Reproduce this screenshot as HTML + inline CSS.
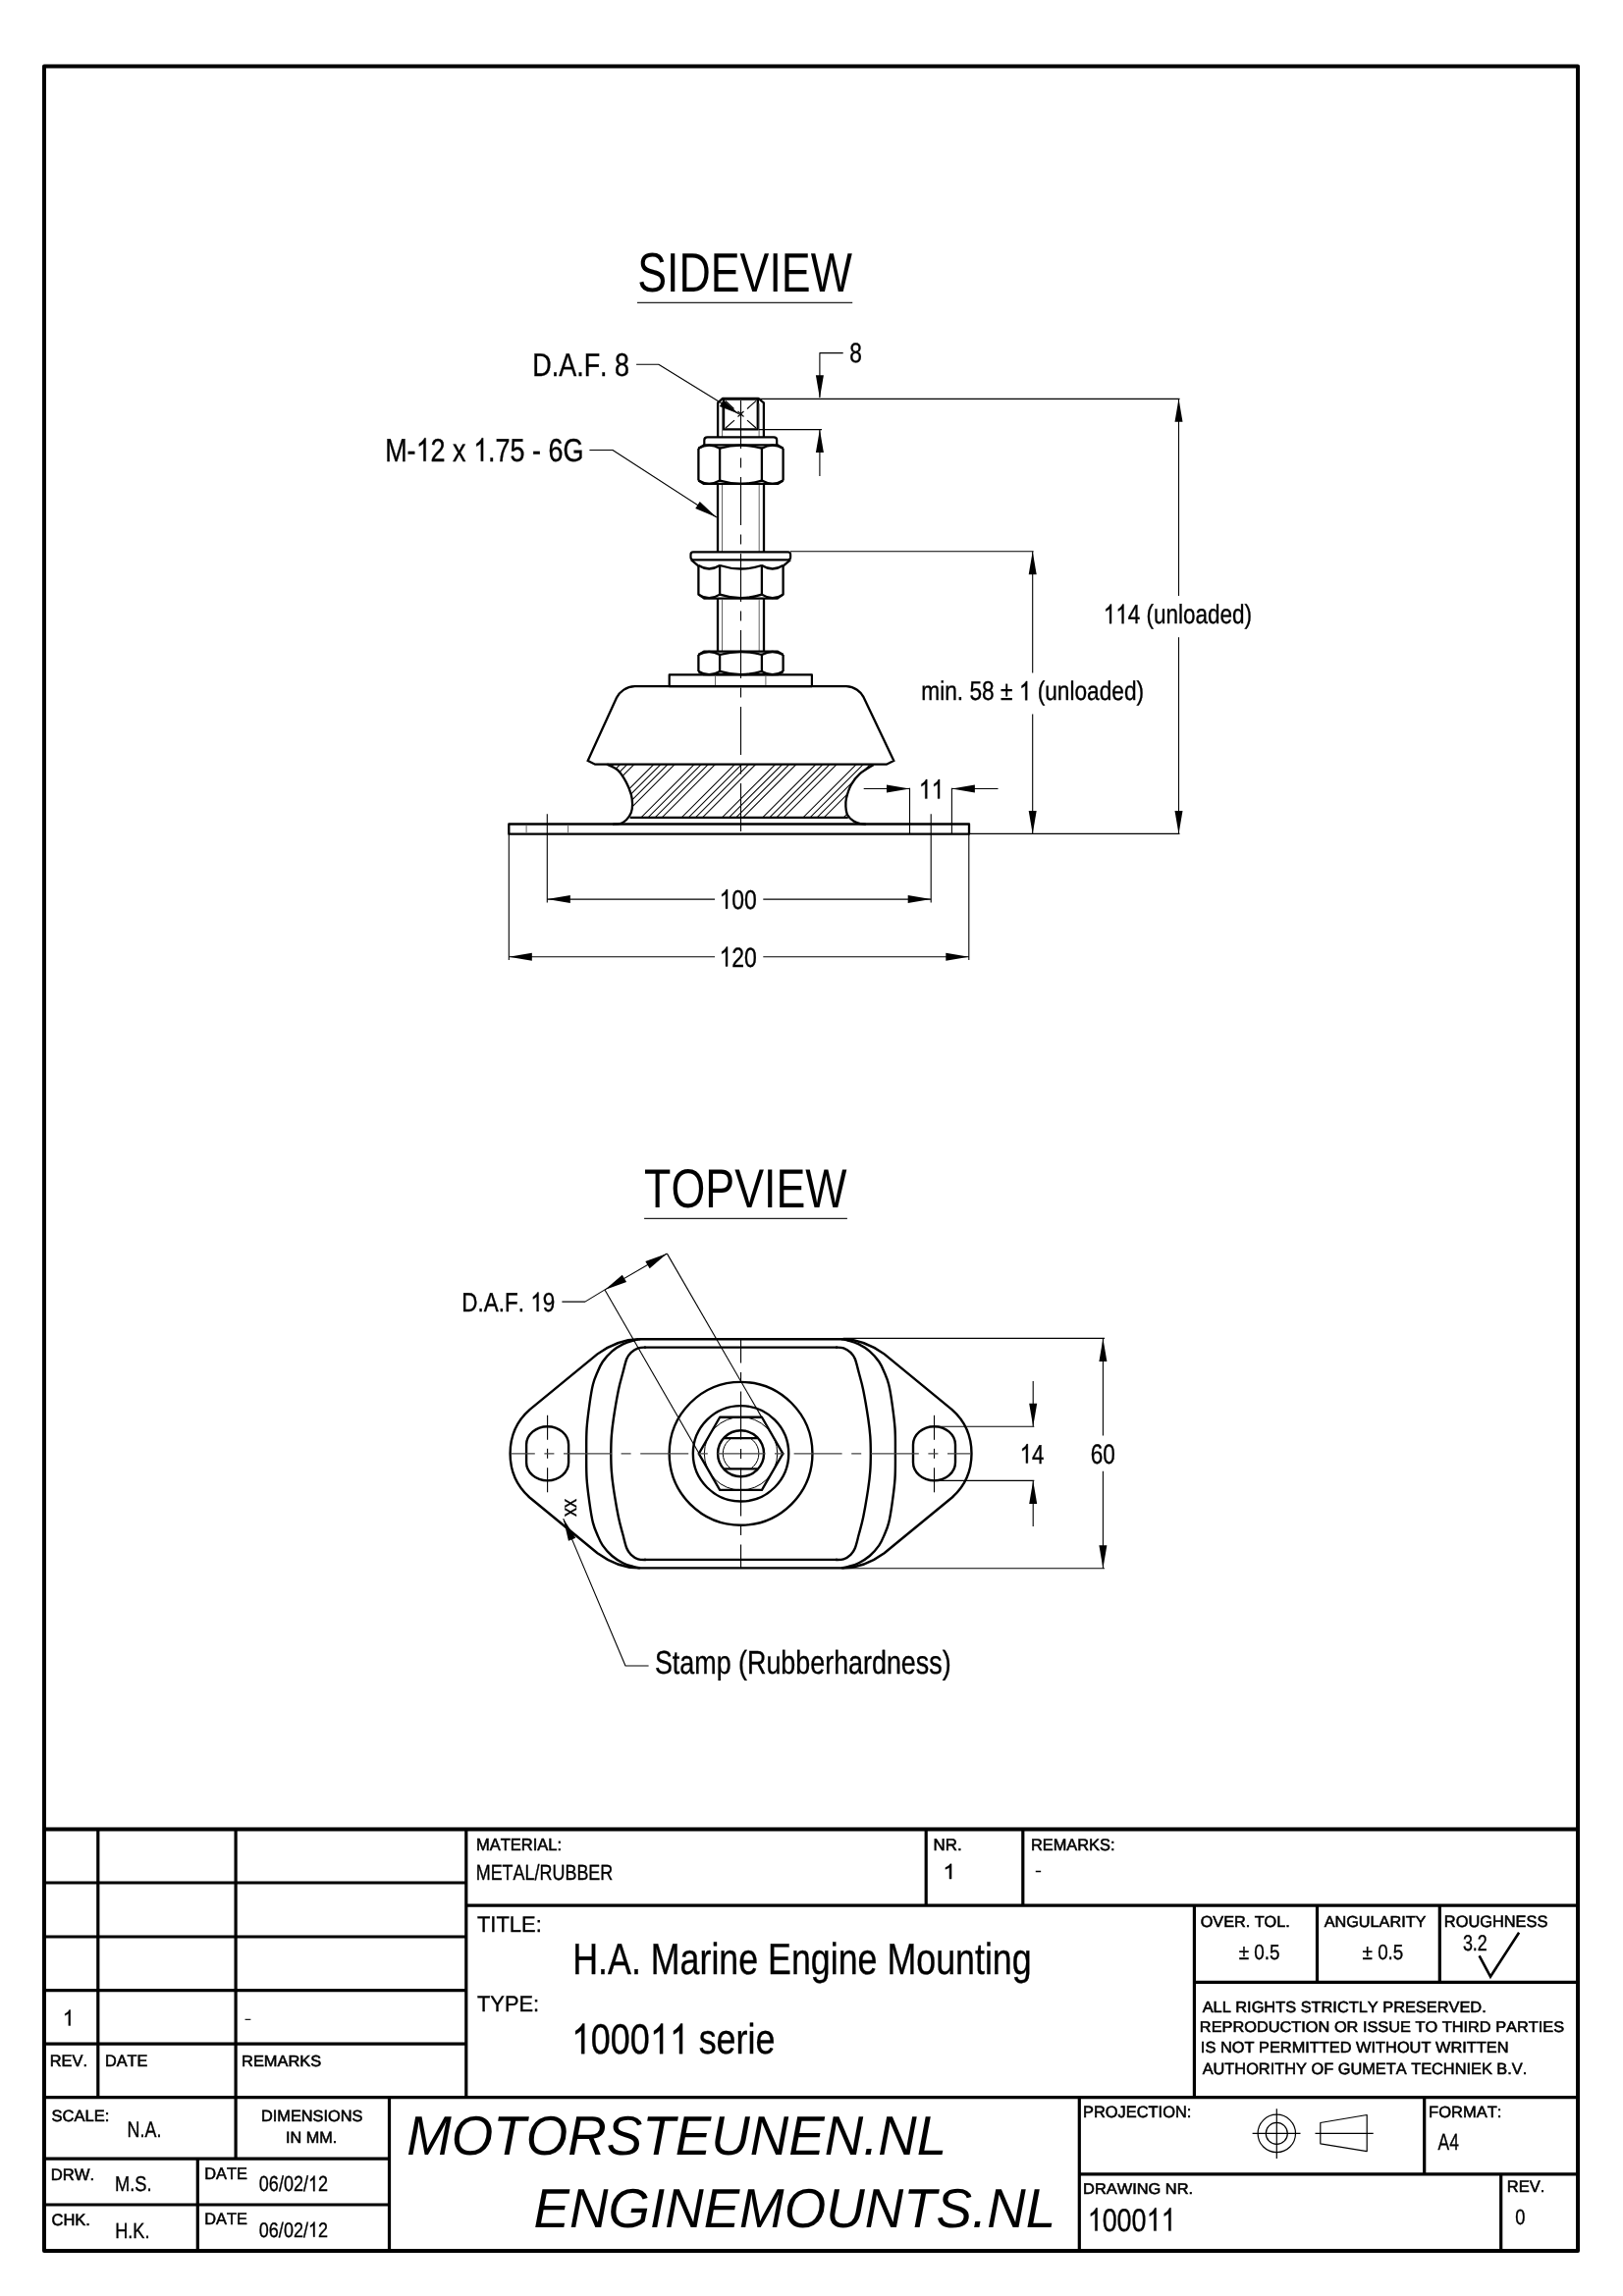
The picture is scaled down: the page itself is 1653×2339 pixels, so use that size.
<!DOCTYPE html>
<html><head><meta charset="utf-8"><style>
html,body{margin:0;padding:0;background:#fff;}
svg{display:block;will-change:transform;}
</style></head><body>
<svg width="1653" height="2339" viewBox="0 0 1653 2339">
<rect width="1653" height="2339" fill="#fff"/>
<g fill="none" stroke="#000" stroke-linecap="butt" stroke-linejoin="round">
<rect x="45" y="67.5" width="1562" height="2225.5" stroke-width="4"/>
<line x1="45" y1="1863.5" x2="1607" y2="1863.5" stroke-width="4"/>
<line x1="45" y1="1918" x2="474.8" y2="1918" stroke-width="3.2"/>
<line x1="45" y1="1973" x2="474.8" y2="1973" stroke-width="3.2"/>
<line x1="45" y1="2027.7" x2="474.8" y2="2027.7" stroke-width="3.2"/>
<line x1="45" y1="2082.2" x2="474.8" y2="2082.2" stroke-width="3.2"/>
<line x1="99.8" y1="1863.5" x2="99.8" y2="2136.7" stroke-width="3.2"/>
<line x1="240.1" y1="1863.5" x2="240.1" y2="2199.2" stroke-width="3.2"/>
<line x1="474.8" y1="1863.5" x2="474.8" y2="2136.7" stroke-width="3.2"/>
<line x1="474.8" y1="1941.2" x2="1607" y2="1941.2" stroke-width="3.2"/>
<line x1="943.2" y1="1863.5" x2="943.2" y2="1941.2" stroke-width="3.2"/>
<line x1="1041.8" y1="1863.5" x2="1041.8" y2="1941.2" stroke-width="3.2"/>
<line x1="1216.4" y1="1941.2" x2="1216.4" y2="2136.5" stroke-width="3.2"/>
<line x1="1216.4" y1="2019.3" x2="1607" y2="2019.3" stroke-width="3.2"/>
<line x1="1341.5" y1="1941.2" x2="1341.5" y2="2019.3" stroke-width="3.2"/>
<line x1="1466.3" y1="1941.2" x2="1466.3" y2="2019.3" stroke-width="3.2"/>
<line x1="45" y1="2136.6" x2="1607" y2="2136.6" stroke-width="3.2"/>
<line x1="396.5" y1="2136.6" x2="396.5" y2="2293" stroke-width="3.2"/>
<line x1="45" y1="2199.2" x2="396.5" y2="2199.2" stroke-width="3.2"/>
<line x1="45" y1="2246" x2="396.5" y2="2246" stroke-width="3.2"/>
<line x1="201.3" y1="2199.2" x2="201.3" y2="2293" stroke-width="3.2"/>
<line x1="1099.3" y1="2136.6" x2="1099.3" y2="2293" stroke-width="3.2"/>
<line x1="1450.7" y1="2136.6" x2="1450.7" y2="2214.9" stroke-width="3.2"/>
<line x1="1099.3" y1="2214.9" x2="1607" y2="2214.9" stroke-width="3.2"/>
<line x1="1528.7" y1="2214.9" x2="1528.7" y2="2293" stroke-width="3.2"/>
<circle cx="1300.3" cy="2173.4" r="19.2" stroke-width="1.2"/>
<circle cx="1300.3" cy="2173.4" r="11" stroke-width="1.2"/>
<line x1="1275.6" y1="2173.4" x2="1324.5" y2="2173.4" stroke-width="1.2"/>
<line x1="1300.3" y1="2148.3" x2="1300.3" y2="2198.9" stroke-width="1.2"/>
<path d="M1344.8,2162.5 L1392.2,2154.5 L1392.2,2191.6 L1344.8,2183.8 Z" stroke-width="1.2"/>
<line x1="1339.5" y1="2173.4" x2="1398.7" y2="2173.4" stroke-width="1.2"/>
<path d="M1506.6,1992.3 L1518,2013.6 L1547.1,1968.7" stroke-width="2.6" stroke-linejoin="miter"/>
<line x1="649" y1="308.4" x2="868.2" y2="308.4" stroke-width="1.2" stroke="#222"/>
<rect x="737" y="406.6" width="34.8" height="30.8" stroke-width="2.4"/>
<path d="M731.1,445.5 L731.1,410.3 L736,405.9 L772.4,405.9 L777.9,410.3 L777.9,445.5" stroke-width="2.3"/>
<line x1="735.6" y1="411" x2="735.6" y2="445" stroke-width="1" stroke="#666"/>
<line x1="773.1" y1="411" x2="773.1" y2="445" stroke-width="1" stroke="#666"/>
<line x1="739" y1="408.5" x2="747.5" y2="416.5" stroke-width="1.1"/>
<line x1="761" y1="416.5" x2="770" y2="408.3" stroke-width="1.1"/>
<line x1="739" y1="436" x2="748" y2="428.2" stroke-width="1.1"/>
<line x1="761" y1="428.2" x2="770" y2="436" stroke-width="1.1"/>
<line x1="751.5" y1="419" x2="757.5" y2="424.5" stroke-width="1.1"/>
<line x1="751.5" y1="424.5" x2="757.5" y2="419" stroke-width="1.1"/>
<path d="M717.3,453 L717.3,448.5 Q717.3,445.4 720.5,445.4 L788,445.4 Q791.2,445.4 791.2,448.5 L791.2,453" stroke-width="2.2"/>
<path d="M711.4,456.7 L716.9,453.4 L792.1,453.4 L797.6,456.7 M711.4,489.59999999999997 L716.9,492.9 L792.1,492.9 L797.6,489.59999999999997 M711.4,456.7 L711.4,489.59999999999997 M797.6,456.7 L797.6,489.59999999999997 M733.1,455.4 L733.1,490.9 M775.9,455.4 L775.9,490.9 " stroke-width="2.3"/>
<path d="M711.4,456.7 Q722.25,450.7 733.1,456.7 M733.1,456.7 Q754.5,450.7 775.9,456.7 M775.9,456.7 Q786.75,450.7 797.6,456.7 " stroke-width="2.3"/>
<path d="M711.4,489.59999999999997 Q722.25,495.99999999999994 733.1,489.59999999999997 M733.1,489.59999999999997 Q754.5,495.99999999999994 775.9,489.59999999999997 M775.9,489.59999999999997 Q786.75,495.99999999999994 797.6,489.59999999999997 " stroke-width="2.3"/>
<line x1="731" y1="493" x2="731" y2="562.4" stroke-width="2.3"/>
<line x1="778" y1="493" x2="778" y2="562.4" stroke-width="2.3"/>
<line x1="735.5" y1="494" x2="735.5" y2="562" stroke-width="1" stroke="#666"/>
<line x1="773.2" y1="494" x2="773.2" y2="562" stroke-width="1" stroke="#666"/>
<rect x="703.5" y="562.4" width="101.6" height="7.9" rx="2.5" stroke-width="2.2"/>
<path d="M704,570.4 L711.4,576.7 M805,570.4 L797.6,576.7" stroke-width="2.3"/>
<path d="M711.4,576.5 L711.4,605.6 L717.1999999999999,609.6 L791.8000000000001,609.6 L797.6,605.6 L797.6,576.5 M733.1,575.5 L733.1,605.6 M775.9,575.5 L775.9,605.6" stroke-width="2.3"/>
<path d="M711.4,576.0 Q722.25,583.0 733.1,576.0 M711.4,605.6 Q722.25,612.6 733.1,605.6 M733.1,576.0 Q754.5,583.0 775.9,576.0 M733.1,605.6 Q754.5,612.6 775.9,605.6 M775.9,576.0 Q786.75,583.0 797.6,576.0 M775.9,605.6 Q786.75,612.6 797.6,605.6 " stroke-width="2.3"/>
<line x1="731" y1="609.6" x2="731" y2="663.7" stroke-width="2.3"/>
<line x1="778" y1="609.6" x2="778" y2="663.7" stroke-width="2.3"/>
<line x1="735.5" y1="611" x2="735.5" y2="663" stroke-width="1" stroke="#666"/>
<line x1="773.2" y1="611" x2="773.2" y2="663" stroke-width="1" stroke="#666"/>
<path d="M711.4,667.0 L716.9,663.7 L792.1,663.7 L797.6,667.0 M711.4,683.9000000000001 L716.9,687.2 L792.1,687.2 L797.6,683.9000000000001 M711.4,667.0 L711.4,683.9000000000001 M797.6,667.0 L797.6,683.9000000000001 M733.1,665.7 L733.1,685.2 M775.9,665.7 L775.9,685.2 " stroke-width="2.3"/>
<path d="M711.4,667.0 Q722.25,661.0 733.1,667.0 M733.1,667.0 Q754.5,661.0 775.9,667.0 M775.9,667.0 Q786.75,661.0 797.6,667.0 " stroke-width="2.3"/>
<path d="M711.4,683.9000000000001 Q722.25,690.3000000000001 733.1,683.9000000000001 M733.1,683.9000000000001 Q754.5,690.3000000000001 775.9,683.9000000000001 M775.9,683.9000000000001 Q786.75,690.3000000000001 797.6,683.9000000000001 " stroke-width="2.3"/>
<rect x="681.7" y="687.4" width="145.2" height="11.7" stroke-width="2.2"/>
<line x1="728.5" y1="689" x2="728.5" y2="698" stroke-width="1" stroke="#666"/>
<line x1="779.9" y1="689" x2="779.9" y2="698" stroke-width="1" stroke="#666"/>
<path d="M646.5,699.1 L862,699.1 C870.6,699.3 876.8,705 879.2,709.6 L910.3,774.9 L902.9,778.7 L606.1,778.7 L598.7,774.9 L628,710.8 C630.6,705 637.9,699.3 646.5,699.1 Z" stroke-width="2.3" stroke-linejoin="miter"/>
<path d="M618.2,778.6 C620.05,779.62 626.02,781.62 629.3,784.7 C632.58,787.78 635.65,792.98 637.9,797.1 C640.15,801.22 641.77,805.72 642.8,809.4 C643.83,813.08 644.1,816.12 644.1,819.2 C644.1,822.28 643.83,825.22 642.8,827.9 C641.77,830.58 639.73,833.45 637.9,835.3 C636.07,837.15 634.12,838.25 631.8,839 C629.48,839.75 625.3,839.67 624,839.8" stroke-width="2.3"/>
<path d="M889.7,779 C887.35,780.57 879.4,784.98 875.6,788.4 C871.8,791.82 869.17,795.38 866.9,799.5 C864.63,803.62 862.92,809.4 862,813.1 C861.08,816.8 861.2,818.83 861.4,821.7 C861.6,824.57 861.87,827.83 863.2,830.3 C864.53,832.77 867.18,835.02 869.4,836.5 C871.62,837.98 874.4,838.65 876.5,839.2 C878.6,839.75 881.08,839.7 882,839.8" stroke-width="2.3"/>
<clipPath id="hc"><polygon points="618.2,778.6 618.74,778.87 619.44,779.19 620.25,779.55 621.17,779.95 622.16,780.39 623.21,780.88 624.29,781.4 625.37,781.97 626.44,782.59 627.47,783.25 628.43,783.95 629.3,784.7 630.12,785.51 630.92,786.4 631.71,787.36 632.49,788.37 633.25,789.43 633.99,790.51 634.71,791.62 635.4,792.74 636.07,793.86 636.71,794.97 637.32,796.05 637.9,797.1 638.45,798.14 638.97,799.18 639.47,800.24 639.94,801.3 640.39,802.36 640.81,803.41 641.2,804.46 641.57,805.49 641.91,806.5 642.23,807.5 642.53,808.46 642.8,809.4 643.04,810.31 643.26,811.19 643.44,812.05 643.6,812.89 643.73,813.72 643.84,814.52 643.92,815.32 643.99,816.11 644.04,816.89 644.08,817.66 644.09,818.43 644.1,819.2 644.09,819.97 644.08,820.73 644.04,821.48 643.99,822.23 643.92,822.97 643.84,823.7 643.73,824.42 643.6,825.14 643.44,825.84 643.26,826.54 643.04,827.22 642.8,827.9 642.52,828.57 642.21,829.25 641.86,829.93 641.48,830.6 641.07,831.26 640.65,831.91 640.21,832.54 640.21,832.8 864.91,832.8 864.91,832.67 864.42,832.1 863.97,831.51 863.56,830.91 863.2,830.3 862.89,829.67 862.62,829.01 862.38,828.32 862.19,827.61 862.02,826.89 861.88,826.15 861.76,825.4 861.66,824.66 861.58,823.91 861.51,823.16 861.45,822.42 861.4,821.7 861.35,821 861.31,820.32 861.28,819.67 861.26,819.02 861.26,818.37 861.28,817.71 861.32,817.04 861.39,816.34 861.49,815.6 861.62,814.82 861.79,813.99 862,813.1 862.25,812.13 862.52,811.09 862.83,809.99 863.17,808.84 863.54,807.66 863.94,806.46 864.37,805.24 864.83,804.03 865.31,802.84 865.81,801.68 866.34,800.56 866.9,799.5 867.47,798.48 868.07,797.49 868.68,796.51 869.32,795.55 869.98,794.61 870.67,793.69 871.4,792.78 872.16,791.88 872.96,791 873.79,790.12 874.67,789.26 875.6,788.4 876.63,787.53 877.8,786.63 879.08,785.71 880.42,784.79 881.81,783.89 883.19,783.01 884.55,782.16 885.84,781.37 887.04,780.65 888.1,780 889,779.45 889.7,779"/></clipPath>
<path clip-path="url(#hc)" d="M583.4,778.6 L529.2,832.8 M590.5,778.6 L536.3,832.8 M597.6,778.6 L543.4,832.8 M604.7,778.6 L550.5,832.8 M624.65,778.6 L570.45,832.8 M631.75,778.6 L577.55,832.8 M638.85,778.6 L584.65,832.8 M645.95,778.6 L591.75,832.8 M665.9,778.6 L611.7,832.8 M673,778.6 L618.8,832.8 M680.1,778.6 L625.9,832.8 M687.2,778.6 L633,832.8 M707.15,778.6 L652.95,832.8 M714.25,778.6 L660.05,832.8 M721.35,778.6 L667.15,832.8 M728.45,778.6 L674.25,832.8 M748.4,778.6 L694.2,832.8 M755.5,778.6 L701.3,832.8 M762.6,778.6 L708.4,832.8 M769.7,778.6 L715.5,832.8 M789.65,778.6 L735.45,832.8 M796.75,778.6 L742.55,832.8 M803.85,778.6 L749.65,832.8 M810.95,778.6 L756.75,832.8 M830.9,778.6 L776.7,832.8 M838,778.6 L783.8,832.8 M845.1,778.6 L790.9,832.8 M852.2,778.6 L798,832.8 M872.15,778.6 L817.95,832.8 M879.25,778.6 L825.05,832.8 M886.35,778.6 L832.15,832.8 M893.45,778.6 L839.25,832.8 M913.4,778.6 L859.2,832.8 M920.5,778.6 L866.3,832.8 M927.6,778.6 L873.4,832.8 M934.7,778.6 L880.5,832.8" stroke-width="1.05"/>
<line x1="641.6" y1="832.8" x2="863.8" y2="832.8" stroke-width="2.3"/>
<rect x="518.3" y="839.5" width="468.7" height="10.2" stroke-width="2.3"/>
<line x1="536.1" y1="840.5" x2="536.1" y2="848.5" stroke-width="1" stroke="#666"/>
<line x1="578.6" y1="840.5" x2="578.6" y2="848.5" stroke-width="1" stroke="#666"/>
<line x1="754.5" y1="408" x2="754.5" y2="850" stroke-width="1.1" stroke-dasharray="49 9.5 10 9.5"/>
<line x1="557.3" y1="829.2" x2="557.3" y2="919.5" stroke-width="1.1"/>
<line x1="948.2" y1="829.2" x2="948.2" y2="919.5" stroke-width="1.1"/>
<line x1="518.3" y1="850" x2="518.3" y2="978" stroke-width="1.1"/>
<line x1="986.8" y1="850" x2="986.8" y2="978" stroke-width="1.1"/>
<line x1="926.5" y1="802.7" x2="926.5" y2="849.5" stroke-width="1.1"/>
<line x1="969.4" y1="802.7" x2="969.4" y2="849.5" stroke-width="1.1"/>
<line x1="557.3" y1="916.1" x2="728" y2="916.1" stroke-width="1.1"/>
<line x1="777.3" y1="916.1" x2="948.2" y2="916.1" stroke-width="1.1"/>
<path d="M557.3,916.1 L580.8,912.1 L580.8,920.1 Z" fill="#000" stroke="none"/>
<path d="M948.2,916.1 L924.7,920.1 L924.7,912.1 Z" fill="#000" stroke="none"/>
<line x1="518.3" y1="974.7" x2="728" y2="974.7" stroke-width="1.1"/>
<line x1="777.3" y1="974.7" x2="986.8" y2="974.7" stroke-width="1.1"/>
<path d="M518.3,974.7 L541.8,970.7 L541.8,978.7 Z" fill="#000" stroke="none"/>
<path d="M986.8,974.7 L963.3,978.7 L963.3,970.7 Z" fill="#000" stroke="none"/>
<line x1="879.7" y1="803.5" x2="926.5" y2="803.5" stroke-width="1.1"/>
<path d="M926.5,803.5 L903,807.5 L903,799.5 Z" fill="#000" stroke="none"/>
<line x1="969.4" y1="803.5" x2="1016.5" y2="803.5" stroke-width="1.1"/>
<path d="M969.4,803.5 L992.9,799.5 L992.9,807.5 Z" fill="#000" stroke="none"/>
<line x1="773.3" y1="406.3" x2="1201.5" y2="406.3" stroke-width="1.3"/>
<line x1="773" y1="437.6" x2="837" y2="437.6" stroke-width="1.1"/>
<line x1="805" y1="561.8" x2="1052.6" y2="561.8" stroke-width="1.1"/>
<line x1="987" y1="849.4" x2="1201.5" y2="849.4" stroke-width="1.1"/>
<line x1="1200.5" y1="406.3" x2="1200.5" y2="607" stroke-width="1.1"/>
<line x1="1200.5" y1="649.2" x2="1200.5" y2="849.4" stroke-width="1.1"/>
<path d="M1200.5,406.3 L1204.5,429.8 L1196.5,429.8 Z" fill="#000" stroke="none"/>
<path d="M1200.5,849.4 L1196.5,825.9 L1204.5,825.9 Z" fill="#000" stroke="none"/>
<line x1="1051.7" y1="561.8" x2="1051.7" y2="685.5" stroke-width="1.1"/>
<line x1="1051.7" y1="727.6" x2="1051.7" y2="849.4" stroke-width="1.1"/>
<path d="M1051.7,561.8 L1055.7,585.3 L1047.7,585.3 Z" fill="#000" stroke="none"/>
<path d="M1051.7,849.4 L1047.7,825.9 L1055.7,825.9 Z" fill="#000" stroke="none"/>
<path d="M858.7,359.6 L834.9,359.6 L834.9,405" stroke-width="1.1"/>
<path d="M834.9,405.8 L830.9,382.3 L838.9,382.3 Z" fill="#000" stroke="none"/>
<line x1="834.9" y1="437.6" x2="834.9" y2="484.9" stroke-width="1.1"/>
<path d="M834.9,437.6 L838.9,461.1 L830.9,461.1 Z" fill="#000" stroke="none"/>
<path d="M648.1,371.2 L670.8,371.2 L752.7,421.7" stroke-width="1.1"/>
<path d="M752.7,421.7 L732.83,413.91 L736.82,407.44 Z" fill="#000" stroke="none"/>
<path d="M600.4,458.5 L624,458.5 L729.8,527" stroke-width="1.1"/>
<path d="M729.8,527 L708.27,517.94 L712.72,511.06 Z" fill="#000" stroke="none"/>
<line x1="656.1" y1="1241.4" x2="862.9" y2="1241.4" stroke-width="1.2" stroke="#222"/>
<path d="M650.4,1364.2 C634,1364.4 620,1371 608.5,1379.4 L539.4,1436.1 C527,1447 519.6,1462 519.6,1480.8 C519.6,1499.6 527,1514.6 539.4,1525.5 L608.5,1582.2 C620,1590.6 634,1597.2 650.4,1597.4" stroke-width="2.4"/>
<path d="M 858.7 1364.2 C 875.1 1364.4 889.1 1371 900.6 1379.4 L 969.7 1436.1 C 982.1 1447 989.5 1462 989.5 1480.8 C 989.5 1499.6 982.1 1514.6 969.7 1525.5 L 900.6 1582.2 C 889.1 1590.6 875.1 1597.2 858.7 1597.4" stroke-width="2.4"/>
<line x1="650.4" y1="1364.2" x2="858.7" y2="1364.2" stroke-width="2.4"/>
<line x1="650.4" y1="1597.4" x2="858.7" y2="1597.4" stroke-width="2.4"/>
<path d="M652,1364.2 C650.92,1364.42 648.43,1364.63 645.5,1365.5 C642.57,1366.37 638.1,1367.55 634.4,1369.4 C630.7,1371.25 626.73,1373.63 623.3,1376.6 C619.87,1379.57 616.3,1383.58 613.8,1387.2 C611.3,1390.82 609.95,1394.42 608.3,1398.3 C606.65,1402.18 605.18,1405.33 603.9,1410.5 C602.62,1415.67 601.65,1421.88 600.6,1429.3 C599.55,1436.72 598.17,1446.42 597.6,1455 C597.03,1463.58 597.2,1472.2 597.2,1480.8 C597.2,1489.4 597.03,1498.02 597.6,1506.6 C598.17,1515.18 599.55,1524.88 600.6,1532.3 C601.65,1539.72 602.62,1545.93 603.9,1551.1 C605.18,1556.27 606.65,1559.42 608.3,1563.3 C609.95,1567.18 611.3,1570.78 613.8,1574.4 C616.3,1578.02 619.87,1582.03 623.3,1585 C626.73,1587.97 630.7,1590.35 634.4,1592.2 C638.1,1594.05 642.57,1595.23 645.5,1596.1 C648.43,1596.97 650.92,1597.18 652,1597.4" stroke-width="2.4"/>
<path d="M857.1,1364.2 C858.18,1364.42 860.67,1364.63 863.6,1365.5 C866.53,1366.37 871,1367.55 874.7,1369.4 C878.4,1371.25 882.37,1373.63 885.8,1376.6 C889.23,1379.57 892.8,1383.58 895.3,1387.2 C897.8,1390.82 899.15,1394.42 900.8,1398.3 C902.45,1402.18 903.92,1405.33 905.2,1410.5 C906.48,1415.67 907.45,1421.88 908.5,1429.3 C909.55,1436.72 910.93,1446.42 911.5,1455 C912.07,1463.58 911.9,1472.2 911.9,1480.8 C911.9,1489.4 912.07,1498.02 911.5,1506.6 C910.93,1515.18 909.55,1524.88 908.5,1532.3 C907.45,1539.72 906.48,1545.93 905.2,1551.1 C903.92,1556.27 902.45,1559.42 900.8,1563.3 C899.15,1567.18 897.8,1570.78 895.3,1574.4 C892.8,1578.02 889.23,1582.03 885.8,1585 C882.37,1587.97 878.4,1590.35 874.7,1592.2 C871,1594.05 866.53,1595.23 863.6,1596.1 C860.67,1596.97 858.18,1597.18 857.1,1597.4" stroke-width="2.4"/>
<path d="M658,1372.6 C656.65,1372.72 652.45,1372.43 649.9,1373.3 C647.35,1374.17 644.63,1375.97 642.7,1377.8 C640.77,1379.63 639.68,1380.88 638.3,1384.3 C636.92,1387.72 635.8,1393.02 634.4,1398.3 C633,1403.58 631.48,1408.22 629.9,1416 C628.32,1423.78 626.08,1437.13 624.9,1445 C623.72,1452.87 623.23,1457.23 622.8,1463.2 C622.37,1469.17 622.3,1474.93 622.3,1480.8 C622.3,1486.67 622.37,1492.43 622.8,1498.4 C623.23,1504.37 623.72,1508.73 624.9,1516.6 C626.08,1524.47 628.32,1537.82 629.9,1545.6 C631.48,1553.38 633,1558.02 634.4,1563.3 C635.8,1568.58 636.92,1573.88 638.3,1577.3 C639.68,1580.72 640.77,1581.97 642.7,1583.8 C644.63,1585.63 647.35,1587.43 649.9,1588.3 C652.45,1589.17 656.65,1588.88 658,1589" stroke-width="2.4"/>
<path d="M851.1,1372.6 C852.45,1372.72 856.65,1372.43 859.2,1373.3 C861.75,1374.17 864.47,1375.97 866.4,1377.8 C868.33,1379.63 869.42,1380.88 870.8,1384.3 C872.18,1387.72 873.3,1393.02 874.7,1398.3 C876.1,1403.58 877.62,1408.22 879.2,1416 C880.78,1423.78 883.02,1437.13 884.2,1445 C885.38,1452.87 885.87,1457.23 886.3,1463.2 C886.73,1469.17 886.8,1474.93 886.8,1480.8 C886.8,1486.67 886.73,1492.43 886.3,1498.4 C885.87,1504.37 885.38,1508.73 884.2,1516.6 C883.02,1524.47 880.78,1537.82 879.2,1545.6 C877.62,1553.38 876.1,1558.02 874.7,1563.3 C873.3,1568.58 872.18,1573.88 870.8,1577.3 C869.42,1580.72 868.33,1581.97 866.4,1583.8 C864.47,1585.63 861.75,1587.43 859.2,1588.3 C856.65,1589.17 852.45,1588.88 851.1,1589" stroke-width="2.4"/>
<line x1="656" y1="1372.6" x2="853.1" y2="1372.6" stroke-width="2.4"/>
<line x1="656" y1="1588.9" x2="853.1" y2="1588.9" stroke-width="2.4"/>
<circle cx="754.55" cy="1480.8" r="72.9" stroke-width="2.4"/>
<circle cx="754.55" cy="1480.8" r="48.7" stroke-width="2.4"/>
<path d="M797.35,1480.8 L775.95,1517.87 L733.15,1517.87 L711.75,1480.8 L733.15,1443.73 L775.95,1443.73 Z" stroke-width="2.3"/>
<circle cx="754.55" cy="1480.8" r="37.2" stroke-width="1"/>
<circle cx="754.55" cy="1480.8" r="23.5" stroke-width="2.4"/>
<path d="M738,1465.2 L771.1,1465.2 M738,1496.3 L771.1,1496.3" stroke-width="2.3"/>
<clipPath id="fc"><rect x="700" y="1466" width="110" height="29.6"/></clipPath>
<circle cx="754.55" cy="1480.8" r="18.3" stroke-width="1" clip-path="url(#fc)"/>
<path d="M536.1,1471.8 A21.5,18.6 0 0 1 579.1,1471.8 L579.1,1489.8 A21.5,18.6 0 0 1 536.1,1489.8 Z" stroke-width="2.4"/>
<line x1="557.6" y1="1441.8" x2="557.6" y2="1466.8" stroke-width="1.1"/>
<line x1="557.6" y1="1475.8" x2="557.6" y2="1485.8" stroke-width="1.1"/>
<line x1="557.6" y1="1495.3" x2="557.6" y2="1520.3" stroke-width="1.1"/>
<path d="M930,1471.8 A21.5,18.6 0 0 1 973,1471.8 L973,1489.8 A21.5,18.6 0 0 1 930,1489.8 Z" stroke-width="2.4"/>
<line x1="951.5" y1="1441.8" x2="951.5" y2="1466.8" stroke-width="1.1"/>
<line x1="951.5" y1="1475.8" x2="951.5" y2="1485.8" stroke-width="1.1"/>
<line x1="951.5" y1="1495.3" x2="951.5" y2="1520.3" stroke-width="1.1"/>
<line x1="520.5" y1="1480.8" x2="989" y2="1480.8" stroke-width="1.2" stroke="#444" stroke-dasharray="49 9.6 10 9.6" stroke-dashoffset="24.7"/>
<line x1="754.55" y1="1364" x2="754.55" y2="1597.5" stroke-width="1.1" stroke-dasharray="49 9.5 10 9.5" stroke-dashoffset="24.5"/>
<line x1="616" y1="1313.9" x2="712" y2="1480.8" stroke-width="1.1"/>
<line x1="679.4" y1="1277.1" x2="775.8" y2="1443.9" stroke-width="1.1"/>
<path d="M572.4,1326.1 L595.9,1326.1 L616,1313.9 L679.4,1277.1" stroke-width="1.1"/>
<path d="M616,1313.9 L633.77,1298.68 L638.07,1306.12 Z" fill="#000" stroke="none"/>
<path d="M679.4,1277.1 L661.63,1292.32 L657.33,1284.88 Z" fill="#000" stroke="none"/>
<line x1="858.7" y1="1363.4" x2="1125" y2="1363.4" stroke-width="1.1"/>
<line x1="858.7" y1="1597.8" x2="1125" y2="1597.8" stroke-width="1.1"/>
<line x1="1123.4" y1="1363.4" x2="1123.4" y2="1462.5" stroke-width="1.1"/>
<line x1="1123.4" y1="1498.7" x2="1123.4" y2="1597.8" stroke-width="1.1"/>
<path d="M1123.4,1363.4 L1127.4,1386.9 L1119.4,1386.9 Z" fill="#000" stroke="none"/>
<path d="M1123.4,1597.8 L1119.4,1574.3 L1127.4,1574.3 Z" fill="#000" stroke="none"/>
<line x1="951.6" y1="1453.2" x2="1053.3" y2="1453.2" stroke-width="1.1"/>
<line x1="951.6" y1="1508.4" x2="1053.3" y2="1508.4" stroke-width="1.1"/>
<line x1="1052.2" y1="1407" x2="1052.2" y2="1453.2" stroke-width="1.1"/>
<path d="M1052.2,1453.2 L1048.2,1429.7 L1056.2,1429.7 Z" fill="#000" stroke="none"/>
<line x1="1052.2" y1="1508.4" x2="1052.2" y2="1554.9" stroke-width="1.1"/>
<path d="M1052.2,1508.4 L1056.2,1531.9 L1048.2,1531.9 Z" fill="#000" stroke="none"/>
<path d="M660.6,1697 L637,1697 L573.7,1547.1" stroke-width="1.1"/>
<path d="M573.7,1547.1 L586.33,1566.73 L578.96,1569.84 Z" fill="#000" stroke="none"/>
</g>
<g fill="#000" font-family="&quot;Liberation Sans&quot;, sans-serif" style="font-kerning:none" text-rendering="geometricPrecision">
<g transform="translate(50.73 2104.62) scale(0.9862 1)" stroke="#000" stroke-width="0.55"><text font-size="16.64">REV.</text></g>
<g transform="translate(106.94 2104.62) scale(0.9782 1)" stroke="#000" stroke-width="0.55"><text font-size="16.64">DATE</text></g>
<g transform="translate(246.03 2104.53) scale(1.0289 1)" stroke="#000" stroke-width="0.55"><text font-size="15.97">REMARKS</text></g>
<g transform="translate(63.68 2063.52) scale(0.9657 1)" stroke="#000" stroke-width="0.35"><text font-size="22.28"> </text><path transform="translate(0.00 0) scale(0.01088 -0.01088)" d="M763,0 L583,0 L583,1125 Q450,1020 240,935 L240,1108 Q420,1190 530,1300 Q625,1395 650,1466 L763,1466 Z" stroke-width="32.2"/></g>
<g transform="translate(249.39 2058.62) scale(2.7793 1)" stroke="#000" stroke-width="0.55"><text font-size="6.41">-</text></g>
<g transform="translate(52.57 2160.72) scale(1.0065 1)" stroke="#000" stroke-width="0.55"><text font-size="16.40">SCALE:</text></g>
<g transform="translate(129.61 2176.82) scale(0.7954 1)" stroke="#000" stroke-width="0.35"><text font-size="22.46">N.A.</text></g>
<g transform="translate(265.93 2160.57) scale(1.0101 1)" stroke="#000" stroke-width="0.55"><text font-size="16.19">DIMENSIONS</text></g>
<g transform="translate(290.98 2182.62) scale(0.9884 1)" stroke="#000" stroke-width="0.55"><text font-size="16.42">IN MM.</text></g>
<g transform="translate(51.71 2220.57) scale(0.9873 1)" stroke="#000" stroke-width="0.55"><text font-size="16.86">DRW.</text></g>
<g transform="translate(116.98 2232.32) scale(0.8509 1)" stroke="#000" stroke-width="0.35"><text font-size="21.49">M.S.</text></g>
<g transform="translate(208.28 2220.42) scale(0.9578 1)" stroke="#000" stroke-width="0.55"><text font-size="17.08">DATE</text></g>
<g transform="translate(263.85 2232.22) scale(0.8237 1)" stroke="#000" stroke-width="0.35"><text font-size="21.86">06/02/ 2</text><path transform="translate(60.76 0) scale(0.01067 -0.01067)" d="M763,0 L583,0 L583,1125 Q450,1020 240,935 L240,1108 Q420,1190 530,1300 Q625,1395 650,1466 L763,1466 Z" stroke-width="32.8"/></g>
<g transform="translate(52.45 2267.38) scale(0.9901 1)" stroke="#000" stroke-width="0.55"><text font-size="16.69">CHK.</text></g>
<g transform="translate(117.19 2279.67) scale(0.8212 1)" stroke="#000" stroke-width="0.35"><text font-size="22.09">H.K.</text></g>
<g transform="translate(208.28 2266.03) scale(0.9744 1)" stroke="#000" stroke-width="0.55"><text font-size="16.79">DATE</text></g>
<g transform="translate(263.85 2278.72) scale(0.8509 1)" stroke="#000" stroke-width="0.35"><text font-size="21.16">06/02/ 2</text><path transform="translate(58.82 0) scale(0.01033 -0.01033)" d="M763,0 L583,0 L583,1125 Q450,1020 240,935 L240,1108 Q420,1190 530,1300 Q625,1395 650,1466 L763,1466 Z" stroke-width="33.9"/></g>
<g transform="translate(484.92 1884.67) scale(0.9562 1)" stroke="#000" stroke-width="0.55"><text font-size="17.30">MATERIAL:</text></g>
<g transform="translate(484.70 1914.62) scale(0.8149 1)" stroke="#000" stroke-width="0.35"><text font-size="22.02">METAL/RUBBER</text></g>
<g transform="translate(950.49 1884.82) scale(0.9891 1)" stroke="#000" stroke-width="0.55"><text font-size="17.08">NR.</text></g>
<g transform="translate(960.06 1914.12) scale(1.1337 1)" stroke="#000" stroke-width="0.35"><text font-size="21.37"> </text><path transform="translate(0.00 0) scale(0.01043 -0.01043)" d="M763,0 L583,0 L583,1125 Q450,1020 240,935 L240,1108 Q420,1190 530,1300 Q625,1395 650,1466 L763,1466 Z" stroke-width="33.5"/></g>
<g transform="translate(1049.93 1884.82) scale(0.9738 1)" stroke="#000" stroke-width="0.55"><text font-size="16.83">REMARKS:</text></g>
<g transform="translate(1054.39 1909.12) scale(1.9016 1)" stroke="#000" stroke-width="0.55"><text font-size="9.38">-</text></g>
<g transform="translate(485.99 1967.92) scale(0.9697 1)" stroke="#000" stroke-width="0.35"><text font-size="22.60">TITLE:</text></g>
<g transform="translate(583.24 2011.03) scale(0.7982 1)" stroke="#000" stroke-width="0.35"><text font-size="44.84">H.A. Marine Engine Mounting</text></g>
<g transform="translate(485.99 2048.72) scale(0.9660 1)" stroke="#000" stroke-width="0.35"><text font-size="22.60">TYPE:</text></g>
<g transform="translate(581.91 2092.22) scale(0.8333 1)" stroke="#000" stroke-width="0.35"><text font-size="43.09"> 000   serie</text><path transform="translate(0.00 0) scale(0.02104 -0.02104)" d="M763,0 L583,0 L583,1125 Q450,1020 240,935 L240,1108 Q420,1190 530,1300 Q625,1395 650,1466 L763,1466 Z" stroke-width="16.6"/><path transform="translate(95.82 0) scale(0.02104 -0.02104)" d="M763,0 L583,0 L583,1125 Q450,1020 240,935 L240,1108 Q420,1190 530,1300 Q625,1395 650,1466 L763,1466 Z" stroke-width="16.6"/><path transform="translate(119.78 0) scale(0.02104 -0.02104)" d="M763,0 L583,0 L583,1125 Q450,1020 240,935 L240,1108 Q420,1190 530,1300 Q625,1395 650,1466 L763,1466 Z" stroke-width="16.6"/></g>
<g transform="translate(1222.70 1962.72) scale(1.0071 1)" stroke="#000" stroke-width="0.55"><text font-size="16.12">OVER. TOL.</text></g>
<g transform="translate(1261.67 1996.33) scale(0.8839 1)" stroke="#000" stroke-width="0.35"><text font-size="21.42">± 0.5</text></g>
<g transform="translate(1348.64 1962.72) scale(1.0082 1)" stroke="#000" stroke-width="0.55"><text font-size="16.12">ANGULARITY</text></g>
<g transform="translate(1387.57 1996.33) scale(0.8795 1)" stroke="#000" stroke-width="0.35"><text font-size="21.42">± 0.5</text></g>
<g transform="translate(1470.83 1962.82) scale(0.9902 1)" stroke="#000" stroke-width="0.55"><text font-size="16.55">ROUGHNESS</text></g>
<g transform="translate(1489.89 1987.28) scale(0.7923 1)" stroke="#000" stroke-width="0.35"><text font-size="22.64">3.2</text></g>
<g transform="translate(1224.64 2049.88) scale(1.0203 1)" stroke="#000" stroke-width="0.55"><text font-size="16.05">ALL RIGHTS STRICTLY PRESERVED.</text></g>
<g transform="translate(1221.83 2070.32) scale(1.0519 1)" stroke="#000" stroke-width="0.55"><text font-size="15.54">REPRODUCTION OR ISSUE TO THIRD PARTIES</text></g>
<g transform="translate(1222.87 2091.42) scale(1.0249 1)" stroke="#000" stroke-width="0.55"><text font-size="15.97">IS NOT PERMITTED WITHOUT WRITTEN</text></g>
<g transform="translate(1224.64 2112.53) scale(0.9973 1)" stroke="#000" stroke-width="0.55"><text font-size="16.40">AUTHORITHY OF GUMETA TECHNIEK B.V.</text></g>
<g transform="translate(414.26 2195.30) scale(0.9740 1)"><text font-size="56.16" font-style="italic">MOTORSTEUNEN.NL</text></g>
<g transform="translate(543.46 2269.20) scale(0.9737 1)"><text font-size="56.16" font-style="italic">ENGINEMOUNTS.NL</text></g>
<g transform="translate(1103.03 2156.82) scale(0.9923 1)" stroke="#000" stroke-width="0.55"><text font-size="16.55">PROJECTION:</text></g>
<g transform="translate(1455.12 2156.82) scale(1.0148 1)" stroke="#000" stroke-width="0.55"><text font-size="16.26">FORMAT:</text></g>
<g transform="translate(1464.54 2189.52) scale(0.7416 1)" stroke="#000" stroke-width="0.35"><text font-size="23.47">A4</text></g>
<g transform="translate(1103.03 2234.62) scale(1.0457 1)" stroke="#000" stroke-width="0.55"><text font-size="15.69">DRAWING NR.</text></g>
<g transform="translate(1107.65 2272.62) scale(0.8261 1)" stroke="#000" stroke-width="0.35"><text font-size="32.61"> 000  </text><path transform="translate(0.00 0) scale(0.01592 -0.01592)" d="M763,0 L583,0 L583,1125 Q450,1020 240,935 L240,1108 Q420,1190 530,1300 Q625,1395 650,1466 L763,1466 Z" stroke-width="22.0"/><path transform="translate(72.53 0) scale(0.01592 -0.01592)" d="M763,0 L583,0 L583,1125 Q450,1020 240,935 L240,1108 Q420,1190 530,1300 Q625,1395 650,1466 L763,1466 Z" stroke-width="22.0"/><path transform="translate(90.66 0) scale(0.01592 -0.01592)" d="M763,0 L583,0 L583,1125 Q450,1020 240,935 L240,1108 Q420,1190 530,1300 Q625,1395 650,1466 L763,1466 Z" stroke-width="22.0"/></g>
<g transform="translate(1534.82 2233.42) scale(0.9917 1)" stroke="#000" stroke-width="0.55"><text font-size="16.64">REV.</text></g>
<g transform="translate(1543.14 2266.02) scale(0.8324 1)" stroke="#000" stroke-width="0.35"><text font-size="21.99">0</text></g>
<g transform="translate(649.24 297.40) scale(0.7922 1)"><text font-size="56.45">SIDEVIEW</text></g>
<g transform="translate(542.37 383.32) scale(0.8113 1)" stroke="#000" stroke-width="0.35"><text font-size="33.17">D.A.F. 8</text></g>
<g transform="translate(392.16 469.82) scale(0.8162 1)" stroke="#000" stroke-width="0.35"><text font-size="33.03">M- 2 x  .75 - 6G</text><path transform="translate(38.58 0) scale(0.01613 -0.01613)" d="M763,0 L583,0 L583,1125 Q450,1020 240,935 L240,1108 Q420,1190 530,1300 Q625,1395 650,1466 L763,1466 Z" stroke-width="21.7"/><path transform="translate(110.19 0) scale(0.01613 -0.01613)" d="M763,0 L583,0 L583,1125 Q450,1020 240,935 L240,1108 Q420,1190 530,1300 Q625,1395 650,1466 L763,1466 Z" stroke-width="21.7"/></g>
<g transform="translate(865.17 369.43) scale(0.8083 1)" stroke="#000" stroke-width="0.35"><text font-size="28.15">8</text></g>
<g transform="translate(1123.66 635.23) scale(0.8200 1)" stroke="#000" stroke-width="0.35"><text font-size="27.44">  4 (unloaded)</text><path transform="translate(0.00 0) scale(0.01340 -0.01340)" d="M763,0 L583,0 L583,1125 Q450,1020 240,935 L240,1108 Q420,1190 530,1300 Q625,1395 650,1466 L763,1466 Z" stroke-width="26.1"/><path transform="translate(15.26 0) scale(0.01340 -0.01340)" d="M763,0 L583,0 L583,1125 Q450,1020 240,935 L240,1108 Q420,1190 530,1300 Q625,1395 650,1466 L763,1466 Z" stroke-width="26.1"/></g>
<g transform="translate(938.28 713.33) scale(0.8353 1)" stroke="#000" stroke-width="0.35"><text font-size="27.16">min. 58 ±   (unloaded)</text><path transform="translate(119.09 0) scale(0.01326 -0.01326)" d="M763,0 L583,0 L583,1125 Q450,1020 240,935 L240,1108 Q420,1190 530,1300 Q625,1395 650,1466 L763,1466 Z" stroke-width="26.4"/></g>
<g transform="translate(935.70 813.62) scale(0.8436 1)" stroke="#000" stroke-width="0.35"><text font-size="27.30">  </text><path transform="translate(0.00 0) scale(0.01333 -0.01333)" d="M763,0 L583,0 L583,1125 Q450,1020 240,935 L240,1108 Q420,1190 530,1300 Q625,1395 650,1466 L763,1466 Z" stroke-width="26.3"/><path transform="translate(15.18 0) scale(0.01333 -0.01333)" d="M763,0 L583,0 L583,1125 Q450,1020 240,935 L240,1108 Q420,1190 530,1300 Q625,1395 650,1466 L763,1466 Z" stroke-width="26.3"/></g>
<g transform="translate(732.51 925.73) scale(0.8363 1)" stroke="#000" stroke-width="0.35"><text font-size="27.44"> 00</text><path transform="translate(0.00 0) scale(0.01340 -0.01340)" d="M763,0 L583,0 L583,1125 Q450,1020 240,935 L240,1108 Q420,1190 530,1300 Q625,1395 650,1466 L763,1466 Z" stroke-width="26.1"/></g>
<g transform="translate(732.51 984.53) scale(0.8238 1)" stroke="#000" stroke-width="0.35"><text font-size="27.86"> 20</text><path transform="translate(0.00 0) scale(0.01361 -0.01361)" d="M763,0 L583,0 L583,1125 Q450,1020 240,935 L240,1108 Q420,1190 530,1300 Q625,1395 650,1466 L763,1466 Z" stroke-width="25.7"/></g>
<g transform="translate(656.12 1230.10) scale(0.7992 1)"><text font-size="56.02">TOPVIEW</text></g>
<g transform="translate(470.33 1335.92) scale(0.8230 1)" stroke="#000" stroke-width="0.35"><text font-size="27.30">D.A.F.  9</text><path transform="translate(84.92 0) scale(0.01333 -0.01333)" d="M763,0 L583,0 L583,1125 Q450,1020 240,935 L240,1108 Q420,1190 530,1300 Q625,1395 650,1466 L763,1466 Z" stroke-width="26.3"/></g>
<g transform="translate(1038.60 1490.62) scale(0.8132 1)" stroke="#000" stroke-width="0.35"><text font-size="27.30"> 4</text><path transform="translate(0.00 0) scale(0.01333 -0.01333)" d="M763,0 L583,0 L583,1125 Q450,1020 240,935 L240,1108 Q420,1190 530,1300 Q625,1395 650,1466 L763,1466 Z" stroke-width="26.3"/></g>
<g transform="translate(1110.65 1490.62) scale(0.7955 1)" stroke="#000" stroke-width="0.35"><text font-size="28.30">60</text></g>
<g transform="translate(666.94 1704.62) scale(0.8055 1)" stroke="#000" stroke-width="0.35"><text font-size="33.36">Stamp (Rubberhardness)</text></g>
<text transform="translate(586.8 1545.12) rotate(-90) scale(0.8184 1)" font-size="22.16" stroke="#000" stroke-width="0.35">xx</text>
</g>
</svg>
</body></html>
